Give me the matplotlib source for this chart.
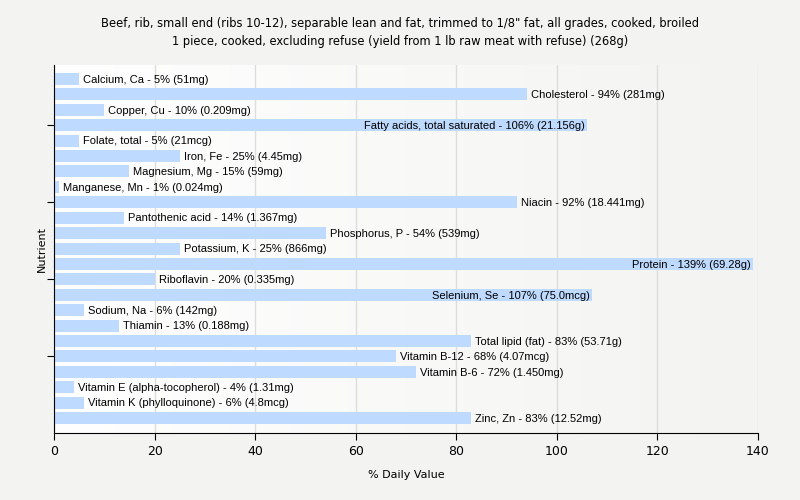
import numpy as np
import matplotlib
matplotlib.use('Agg')
import matplotlib.pyplot as plt

title = ('Beef, rib, small end (ribs 10-12), separable lean and fat, trimmed to 1/8" fat, all grades, cooked, broiled\n'
         '1 piece, cooked, excluding refuse (yield from 1 lb raw meat with refuse) (268g)')

nutrients = ['Calcium, Ca', 'Cholesterol', 'Copper, Cu', 'Fatty acids, total saturated',
             'Folate, total', 'Iron, Fe', 'Magnesium, Mg', 'Manganese, Mn', 'Niacin',
             'Pantothenic acid', 'Phosphorus, P', 'Potassium, K', 'Protein', 'Riboflavin',
             'Selenium, Se', 'Sodium, Na', 'Thiamin', 'Total lipid (fat)', 'Vitamin B-12',
             'Vitamin B-6', 'Vitamin E (alpha-tocopherol)', 'Vitamin K (phylloquinone)', 'Zinc, Zn']
percents = [5, 94, 10, 106, 5, 25, 15, 1, 92, 14, 54, 25, 139, 20, 107, 6, 13, 83, 68, 72, 4, 6, 83]
amounts = ['51mg', '281mg', '0.209mg', '21.156g', '21mcg', '4.45mg', '59mg', '0.024mg',
           '18.441mg', '1.367mg', '539mg', '866mg', '69.28g', '0.335mg', '75.0mcg', '142mg',
           '0.188mg', '53.71g', '4.07mcg', '1.450mg', '1.31mg', '4.8mcg', '12.52mg']
xticks = [0, 20, 40, 60, 80, 100, 120, 140]


def main():
	fig = plt.figure(figsize=(8, 5), dpi=100, facecolor='#f3f3f1')
	ax = fig.add_axes([0.0675, 0.134, 0.88, 0.736])

	# soft horizontal gradient behind the bars
	grad = np.linspace(0, 1, 256).reshape(1, -1)
	cmap = matplotlib.colors.LinearSegmentedColormap.from_list('bg', ['#ffffff', '#f3f3f1'])
	ax.imshow(grad, cmap=cmap, extent=[0, 1, 0, 1], transform=ax.transAxes,
	          aspect='auto', zorder=0)

	y = np.arange(len(nutrients))
	ax.barh(y, percents, height=0.78, color='#bfdaff', zorder=2)

	for i, (n, p, a) in enumerate(zip(nutrients, percents, amounts)):
		label = '%s - %d%% (%s)' % (n, p, a)
		if p > 100:
			ax.text(p - 0.5, i + 0.05, label, ha='right', va='center', fontsize=8,
			        family='Liberation Sans', zorder=3)
		else:
			ax.text(p + 0.8, i + 0.05, label, ha='left', va='center', fontsize=8,
			        family='Liberation Sans', zorder=3)

	ax.set_xlim(0, 140)
	ax.set_ylim(len(nutrients) - 1 + 0.97, -0.91)
	ax.set_xticks(xticks)
	ax.set_yticks([3, 8, 13, 18])
	ax.set_yticklabels([])
	ax.tick_params(axis='x', labelsize=9, length=5)
	ax.tick_params(axis='y', length=5)
	ax.grid(axis='x', color='#dddddd', linewidth=1, zorder=1)
	ax.set_axisbelow(True)
	for s in ['top', 'right']:
		ax.spines[s].set_visible(False)

	ax.set_xlabel('% Daily Value', fontsize=8, labelpad=9)
	ax.set_ylabel('Nutrient', fontsize=8)
	ax.yaxis.set_label_coords(-0.01, 0.5)
	fig.text(0.5, 0.966, title, fontsize=8.3, ha='center', va='top', linespacing=1.55)

	fig.savefig('out.png', dpi=100, facecolor=fig.get_facecolor())


if __name__ == '__main__':
	main()
